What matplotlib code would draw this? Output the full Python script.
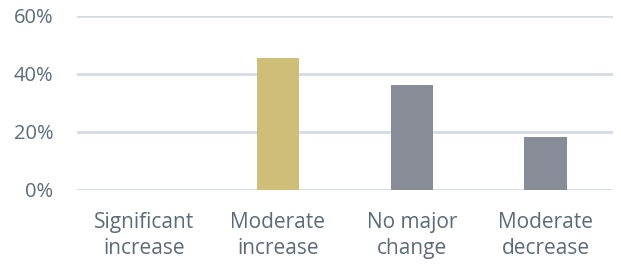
import matplotlib.pyplot as plt
from matplotlib.ticker import PercentFormatter

categories = ["Significant\nincrease", "Moderate\nincrease", "No major\nchange", "Moderate\ndecrease"]
values = [0.0, 45.3, 36.0, 18.1]
colors = ["#CFBE78", "#CFBE78", "#878C96", "#878C96"]
yticks = [0, 20, 40, 60]

text_color = "#5B6B7B"
plt.rcParams['font.family'] = ['Open Sans', 'DejaVu Sans']

fig = plt.figure(figsize=(6.21, 2.64), dpi=100)
ax = fig.add_axes([0.124, 0.282, 0.863, 0.659])

ax.bar(range(len(categories)), values, width=0.32, color=colors, zorder=3)

ax.set_xlim(-0.5, 3.5)
ax.set_ylim(0, 60)
ax.set_yticks(yticks)
ax.yaxis.set_major_formatter(PercentFormatter(decimals=0))
ax.set_xticks(range(len(categories)))
ax.set_xticklabels(categories, linespacing=1.3)

ax.grid(axis='y', color="#D6DCE3", linewidth=2, zorder=0)
ax.set_axisbelow(True)
for s in ax.spines.values():
    s.set_visible(False)
ax.tick_params(length=0, colors=text_color)
ax.tick_params(axis='y', labelsize=14.5, pad=17)
ax.tick_params(axis='x', labelsize=15, pad=16)

fig.savefig("out.png", dpi=100)
